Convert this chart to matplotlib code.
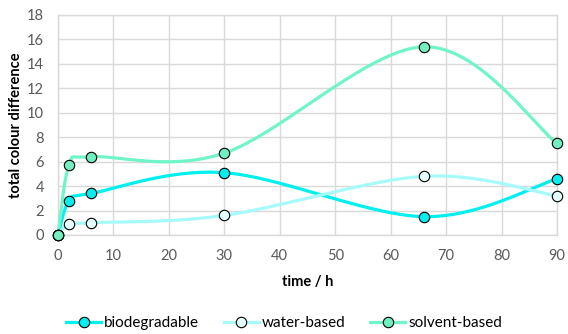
import numpy as np
import matplotlib
matplotlib.use("Agg")
import matplotlib.pyplot as plt

time_h = [0, 2, 6, 30, 66, 90]
biodegradable = [0.0, 2.8, 3.4, 5.1, 1.5, 4.6]
water_based = [0.0, 0.9, 1.0, 1.6, 4.8, 3.2]
solvent_based = [0.0, 5.7, 6.4, 6.7, 15.4, 7.5]

x_ticks = [0, 10, 20, 30, 40, 50, 60, 70, 80, 90]
y_ticks = [0, 2, 4, 6, 8, 10, 12, 14, 16, 18]

plt.rcParams['font.family'] = ['Lato', 'DejaVu Sans']

W, H = 568, 334
fig = plt.figure(figsize=(W / 100, H / 100), dpi=100)
left, right, top, bottom = 58, 557, 15, 235
ax = fig.add_axes([left / W, 1 - bottom / H, (right - left) / W, (bottom - top) / H])
ax.set_xlim(0, 90)
ax.set_ylim(0, 18)

sx = (right - left) / 90.0
sy = (bottom - top) / 18.0


def smooth(xs, ys, n=40):
    # Excel-like smoothed line (cubic Bezier, Catmull-Rom style) in screen space
    P = np.column_stack([np.array(xs, float) * sx, np.array(ys, float) * sy])
    out = []
    m = len(P)
    for i in range(m - 1):
        p0 = P[i - 1] if i > 0 else P[i]
        p1 = P[i]
        p2 = P[i + 1]
        p3 = P[i + 2] if i + 2 < m else P[i + 1]
        c1 = p1 + (p2 - p0) / 6.0
        c2 = p2 - (p3 - p1) / 6.0
        t = np.linspace(0, 1, n)[:, None]
        seg = ((1 - t) ** 3) * p1 + 3 * ((1 - t) ** 2) * t * c1 + 3 * (1 - t) * t ** 2 * c2 + t ** 3 * p2
        if i > 0:
            seg = seg[1:]
        out.append(seg)
    out = np.vstack(out)
    return out[:, 0] / sx, out[:, 1] / sy


series = [
    ("biodegradable", biodegradable, "#00F0F0", "#00F0F0"),
    ("water-based", water_based, "#A6FAFA", "#E6FFFF"),
    ("solvent-based", solvent_based, "#70F5C8", "#70F0C0"),
]

MS = 7.5
handles = []
for label, ys, lc, fc in series:
    sxs, sys_ = smooth(time_h, ys)
    ax.plot(sxs, sys_, color=lc, lw=2.3, solid_capstyle='round', zorder=3, clip_on=False)
    ax.plot(time_h, ys, linestyle='none', marker='o', markersize=MS,
            markerfacecolor=fc, markeredgecolor='black', markeredgewidth=0.8, zorder=4,
            clip_on=False)
    h, = ax.plot([], [], color=lc, lw=2.3, marker='o', markersize=MS,
                 markerfacecolor=fc, markeredgecolor='black', markeredgewidth=0.8)
    handles.append((h, label))

ax.set_xticks(x_ticks)
ax.set_yticks(y_ticks)
ax.grid(True, color='#D9D9D9', lw=1.0, zorder=0)
ax.set_axisbelow(True)
for s in ax.spines.values():
    s.set_color('#D9D9D9')
    s.set_linewidth(1.0)
ax.tick_params(length=0, labelsize=10.5, labelcolor='#595959')
ax.tick_params(axis='x', pad=10)
ax.tick_params(axis='y', pad=10)

ax.set_xlabel("time / h", fontsize=10.5, fontweight='bold', labelpad=9)
ax.set_ylabel("total colour difference", fontsize=10.5, fontweight='bold', labelpad=3)

fig.legend([h for h, _ in handles], [l for _, l in handles], loc='center',
           bbox_to_anchor=(0.5, 1 - 323 / H), ncol=3, frameon=False, fontsize=11,
           handlelength=2.3, columnspacing=1.6, handletextpad=0.2, numpoints=1)

fig.savefig("out.png", dpi=100)
